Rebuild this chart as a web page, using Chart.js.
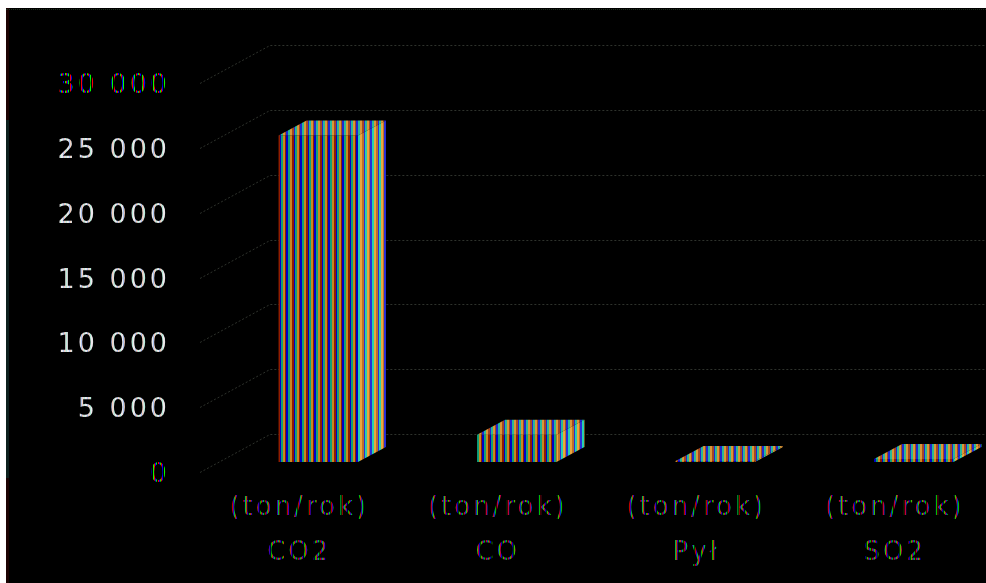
<!DOCTYPE html>
<html lang="pl">
<head>
<meta charset="utf-8">
<title>Emisje</title>
<style>
    html, body { margin: 0; height: 100%; background: #fff; overflow: hidden; }
    #wrap {
        position: absolute; left: 6px; top: 8px; width: 980px; height: 575px; overflow: hidden;
        background: #000;
    }
    #edge {
        position: absolute; left: 0; top: 0; width: 3px; height: 100%;
        background: linear-gradient(#1c0303 0, #1c0303 112px, #0c201c 112px, #0c201c 470px, #1c0303 470px);
    }
    #topline { position: absolute; left: 0; top: 1px; width: 100%; border-top: 1px dotted #1c2a1c; }
    canvas { display: block; }
</style>
<script src="https://cdn.jsdelivr.net/npm/chart.js@4/dist/chart.umd.min.js"></script>
</head>
<body>
<div id="wrap">
    <canvas id="emisje" width="1020" height="575"></canvas>
    <div id="edge"></div>
    <div id="topline"></div>
</div>
<script>
const categories = ['CO2', 'CO', 'Pył', 'SO2'];
const unit = '(ton/rok)';
const values = [25200, 2100, 80, 240];
const tickLabels = ['0', '5 000', '10 000', '15 000', '20 000', '25 000', '30 000'];

// paski kolorow - wypelnienie slupkow i tekstu
const stripes = (colors) => {
    const c = document.createElement('canvas');
    c.width = colors.length;
    c.height = 1;
    const g = c.getContext('2d');
    colors.forEach((col, i) => {
        g.fillStyle = col;
        g.fillRect(i, 0, 1, 1);
    });
    return g.createPattern(c, 'repeat');
};

// kolejnosc paskow wspolna dla wszystkich scian slupka: [niebieski, turkus, pomarancz, brazowy]
const barStripes = ([b, t, o, r]) => stripes([b, b, t, t, o, o, r, r, b, t, t, o, o, r]);

const frontFill = barStripes(['#0000c8', '#10a078', '#c88820', '#901c00']);
const topFill = barStripes(['#2028d0', '#28b898', '#d89838', '#a84820']);
const sideFill = barStripes(['#2830d8', '#28d0b0', '#e8a840', '#c07028']);
const brightText = stripes(['#e8e8e8', '#b0c4f0', '#f0d0c0', '#dcdcdc', '#b8ecd8', '#f0e8f0']);
const rgbText = stripes(['#0000ff', '#00ff00', '#ff0000', '#0000ff', '#000000', '#00ff00', '#ff0000', '#0000ff', '#00ff00', '#000000', '#ff0000']);

const DEPTH_X = 28;  // przesuniecie tylnej sciany slupka
const DEPTH_Y = 15;

const polygon = (ctx, pts, fill) => {
    ctx.beginPath();
    pts.forEach(([x, y], i) => (i ? ctx.lineTo(x, y) : ctx.moveTo(x, y)));
    ctx.closePath();
    ctx.fillStyle = fill;
    ctx.fill();
};

// siatka "3D": ukos od osi do tylnej sciany i linia pozioma
const wallGrid = {
    id: 'wallGrid',
    beforeDraw(chart) {
        chart.ctx.letterSpacing = '3px';
    },
    beforeDatasetsDraw(chart) {
        const { ctx, scales: { y }, chartArea } = chart;
        ctx.save();
        ctx.strokeStyle = '#2e322c';
        ctx.lineWidth = 1;
        ctx.setLineDash([2, 2]);
        y.ticks.forEach((t) => {
            const py = Math.round(y.getPixelForValue(t.value));
            ctx.beginPath();
            ctx.moveTo(chartArea.left - 19, py + 10.5);
            ctx.lineTo(chartArea.left + 51, py - 27.5);
            ctx.lineTo(chartArea.right, py - 27.5);
            ctx.stroke();
        });
        ctx.restore();
    }
};

// gorna i boczna sciana kazdego slupka
const barDepth = {
    id: 'barDepth',
    afterDatasetsDraw(chart) {
        const { ctx } = chart;
        ctx.save();
        chart.getDatasetMeta(0).data.forEach((bar) => {
            const left = bar.x - bar.width / 2;
            const right = bar.x + bar.width / 2;
            polygon(ctx, [[left, bar.y], [left + DEPTH_X, bar.y - DEPTH_Y], [right + DEPTH_X, bar.y - DEPTH_Y], [right, bar.y]], topFill);
            polygon(ctx, [[right, bar.y], [right + DEPTH_X, bar.y - DEPTH_Y], [right + DEPTH_X, bar.base - DEPTH_Y], [right, bar.base]], sideFill);
        });
        ctx.restore();
    }
};

new Chart(document.getElementById('emisje'), {
    type: 'bar',
    data: {
        labels: categories.map((name) => [unit, name]),
        datasets: [{
            data: values,
            backgroundColor: frontFill,
            borderWidth: 0,
            barPercentage: 0.4,
            categoryPercentage: 1
        }]
    },
    options: {
        responsive: false,
        animation: false,
        devicePixelRatio: 1,
        layout: { padding: { top: 65, right: 13, left: 0, bottom: 0 } },
        plugins: {
            legend: { display: false },
            tooltip: { enabled: false }
        },
        scales: {
            x: {
                grid: { display: false, drawTicks: false },
                border: { display: false },
                afterFit: (scale) => { scale.height = 121; },
                ticks: {
                    color: rgbText,
                    font: { family: 'DejaVu Sans', size: 26, lineHeight: 1.75 },
                    maxRotation: 0,
                    autoSkip: false,
                    labelOffset: -19,
                    padding: 23
                }
            },
            y: {
                min: 0,
                max: 30000,
                grid: { display: false, drawTicks: false },
                border: { display: false },
                afterFit: (scale) => { scale.width = 213; },
                ticks: {
                    stepSize: 5000,
                    padding: 49,
                    labelOffset: 13,
                    font: { family: 'DejaVu Sans', size: 27 },
                    color: (c) => (c.index === 0 || c.index === 6 ? rgbText : brightText),
                    callback: (v, i) => tickLabels[i]
                }
            }
        }
    },
    plugins: [wallGrid, barDepth]
});
</script>
</body>
</html>
